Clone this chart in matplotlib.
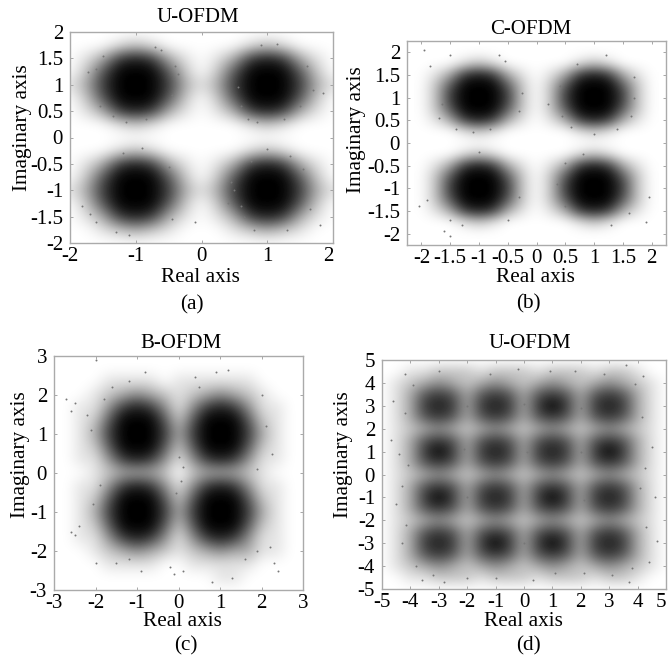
import numpy as np
import matplotlib
matplotlib.use("Agg")
import matplotlib.pyplot as plt

plt.rcParams['font.family'] = ['Liberation Serif', 'DejaVu Serif']

W, H = 668, 658

# darkness, 0 = white, 9 = black, one digit per grid node
# rows run from the top of the panel to the bottom
dark_a = ["00000000000000000",
          "00012100000121000",
          "01378731013787310",
          "02699962026999620",
          "13799973137999731",
          "02699962026999620",
          "01378731013787310",
          "00012100000121000",
          "00000000000000000",
          "00012100000121000",
          "01378731013787310",
          "02699962026999620",
          "13799973137999731",
          "02699962026999620",
          "01378731013787310",
          "00123210001232100",
          "00000000000000000"]
dark_b = ["00000000000000000",
          "00012100000121000",
          "01378731013787310",
          "02699962026999620",
          "02799972027999720",
          "02699962026999620",
          "01378731013787310",
          "00012100000121000",
          "00000000000000000",
          "00012100000121000",
          "01378731013787310",
          "02699962026999620",
          "02799972027999720",
          "02699962026999620",
          "01378731013787310",
          "00012100000121000",
          "00000000000000000"]
dark_c = ["0000000000000000000",
          "0000000000000000000",
          "0000111101111110000",
          "0001234321234321000",
          "0011478741478741100",
          "0012699962699962100",
          "0013799973799973100",
          "0012699962699962100",
          "0011478741478741100",
          "0001233320233321000",
          "0011478741478741100",
          "0012699962699962100",
          "0013799973799973100",
          "0012699962699962100",
          "0011478741478741100",
          "0001234321234331100",
          "0000111100111110000",
          "0000000000001100000",
          "0000000000000000000"]
dark_d = ["000000000000000000000",
          "001122212221222122100",
          "012343234323432343210",
          "013676367636763676310",
          "013787378737973787310",
          "013676367636763676310",
          "012343234323432343210",
          "013676367636763676310",
          "013797378737873797310",
          "013676367636763676310",
          "012343234323432343210",
          "013676367636763676310",
          "013797378737973787310",
          "013676367636763676310",
          "012343234323432343210",
          "013676367636763676310",
          "013787379737973787310",
          "013676367636763676310",
          "012343234323432343210",
          "001122212221222122100",
          "000000000000000000000"]

# isolated points in the outskirts of each cloud
stray_a_x = [-1.6, -1.72, -1.5, -0.62, -0.7, -1.82, -1.7, -1.3, -1.1, 0.5, 0.45, 0.55, 1.7, 1.85, 1.65, 0.9, 1.15,
             1.8, -0.1, 0.4, -1.35, -1.15, -0.85, -0.45, -0.35, -0.4, -1.55, -1.6, -0.9, -1.2, -0.5, -0.45, 0.6,
             0.7, 0.85, 1.25, 1.5, 1.6, 0.75, 1.0, 1.35, 1.55, 0.6, 0.65, 0.8, 1.3]
stray_a_y = [1.3, 1.25, 1.55, 1.65, 1.72, -1.3, -1.45, -1.8, -1.85, -1.0, -0.85, 0.95, 0.9, 0.85, -1.35, 1.75, 1.78,
             -1.65, -1.6, -1.25, 0.4, 0.3, 0.35, 0.8, 1.2, 1.35, 0.6, -1.6, -0.2, -0.3, -0.55, -1.55, 0.6,
             0.35, 0.3, 0.35, 0.6, 1.35, -0.45, -0.22, -0.35, -0.6, -1.3, -1.5, -1.75, -1.75]
stray_b_x = [-1.85, -1.95, -1.65, -1.5, -0.65, -0.55, 0.2, -2.05, -1.9, -1.6, -1.5, 0.4, 0.35, 1.7, 1.95, 1.9, 0.5,
             1.2, -1.4, -1.1, -0.8, -0.3, -0.25, -1.7, -1.5, -1.3, -0.5, -0.3, -1.0, 0.45, 0.6, 1.0, 1.4, 1.65,
             0.8, 0.5, 1.3, 1.6, 1.7, 0.7]
stray_b_y = [1.7, 2.05, 0.85, 1.95, 1.95, 1.8, 0.85, -1.4, -1.25, -1.95, -2.05, 1.25, -0.9, 1.0, -1.2, -1.75, -0.45,
             1.95, 0.3, 0.25, 0.3, 0.7, 1.1, 0.55, -1.7, -1.8, -1.7, -1.2, -0.2, 0.6, 0.35, 0.2, 0.3, 0.6,
             -0.25, -1.4, -1.8, -1.55, 1.45, 1.75]
stray_c_x = [-2.7, -2.6, -2.5, -2.1, -2.0, -2.6, -2.5, -2.4, -2.0, -0.2, -0.1, 0.1, 0.9, 1.2, 2.3, 2.4, 2.2, 1.3,
             0.8, -0.8, 2.0, -0.9, -2.2, -1.8, -1.6, -1.2, 0.0, -0.05, 0.1, 0.05, 2.1, 2.25, 1.9, -2.05, -1.9, 1.6,
             1.9, 0.4, 0.5, -1.5, -1.2]
stray_c_y = [1.9, 1.6, 1.8, 1.1, 2.9, -1.5, -1.6, -1.35, -2.3, -2.4, -2.6, -2.5, 2.6, 2.65, -2.3, -2.5, -1.9, -2.7,
             -2.8, 2.6, 2.0, -2.5, 1.5, 1.9, 2.2, 2.35, 0.4, -0.5, 0.15, -0.2, 1.2, 0.5, 0.1, -0.8, -0.3, -2.2,
             -2.0, 2.45, 2.2, -2.3, -2.2]
stray_d_x = [-4.6, -4.4, -4.5, -4.3, -4.7, -4.2, -3.6, -2.8, 4.2, 4.5, 4.6, 4.7, 4.4, 3.6, 3.7, -0.2, 0.3, 1.8,
             -2.0, 2.1, -4.2, -4.1, -4.3, -4.15, 4.15, 4.25, 4.1, 4.3, -3.0, -1.2, 0.9, 2.8, -3.2, -1.0, 1.1, 3.1,
             -2.0, 0.0, 2.0, -2.0, 0.0, 2.0, -2.1, 0.1, 2.1, -3.9, 3.9, -3.8, 3.8]
stray_d_y = [3.2, 0.9, -1.3, -3.0, 1.5, 4.4, -4.6, -4.7, 4.3, 1.2, -1.0, -2.9, -3.8, 4.8, -4.7, 4.6, -4.6, 4.5,
             -4.5, -4.3, 2.7, 0.4, -0.5, -2.2, 2.5, 0.3, -0.6, -2.3, 4.5, 4.4, 4.5, 4.4, -4.4, -4.5, -4.3, -4.4,
             3.0, 3.1, 2.9, -1.0, -3.0, 1.0, 1.1, 1.0, -1.1, 3.9, 3.95, -4.0, -4.1]

a_ticks_x = [-2, -1, 0, 1, 2]
a_ticks_y = [-2, -1.5, -1, -0.5, 0, 0.5, 1, 1.5, 2]
b_ticks = [-2, -1.5, -1, -0.5, 0, 0.5, 1, 1.5, 2]
c_ticks = [-3, -2, -1, 0, 1, 2, 3]
d_ticks = [-5, -4, -3, -2, -1, 0, 1, 2, 3, 4, 5]

panels = [
    dict(box=(70, 32, 333, 243), lim=(-2, 2), grid=2, dark=dark_a, sx=stray_a_x, sy=stray_a_y,
         xt=a_ticks_x, yt=a_ticks_y, title="U-OFDM", title_xy=(198, 18), xl_xy=(200, 277),
         yl_xy=(22, 128), tag="(a)", tag_xy=(192, 305)),
    dict(box=(407, 41, 666, 245), lim=(-2.25, 2.25), grid=2, dark=dark_b, sx=stray_b_x, sy=stray_b_y,
         xt=b_ticks, yt=b_ticks, title="C-OFDM", title_xy=(531, 29), xl_xy=(535, 277),
         yl_xy=(357, 130), tag="(b)", tag_xy=(528, 304)),
    dict(box=(54, 356, 303, 590), lim=(-3, 3), grid=3, dark=dark_c, sx=stray_c_x, sy=stray_c_y,
         xt=c_ticks, yt=c_ticks, title="B-OFDM", title_xy=(181, 343), xl_xy=(182, 622),
         yl_xy=(21, 455), tag="(c)", tag_xy=(186, 646)),
    dict(box=(382, 360, 666, 589), lim=(-5, 5), grid=5, dark=dark_d, sx=stray_d_x, sy=stray_d_y,
         xt=d_ticks, yt=d_ticks, title="U-OFDM", title_xy=(530, 343), xl_xy=(523, 621),
         yl_xy=(344, 455), tag="(d)", tag_xy=(528, 646)),
]


def tick_text(v):
    return f"{v:g}"


fig = plt.figure(figsize=(W / 100, H / 100), dpi=100)

for p in panels:
    x0, y0, x1, y1 = p['box']
    ax = fig.add_axes([x0 / W, 1 - y1 / H, (x1 - x0) / W, (y1 - y0) / H])
    rows = np.array([[int(c) for c in r] for r in p['dark']], dtype=float)
    g = p['grid']
    half = g / (rows.shape[0] - 1)
    ax.imshow(rows, cmap='gray_r', vmin=0, vmax=9, interpolation='bicubic', aspect='auto',
              extent=(-g - half, g + half, -g - half, g + half))
    ax.scatter(p['sx'], p['sy'], s=2, color='#777777', linewidths=0)
    ax.set_xlim(*p['lim'])
    ax.set_ylim(*p['lim'])
    ax.set_xticks(p['xt'])
    ax.set_yticks(p['yt'])
    ax.set_xticklabels([tick_text(v) for v in p['xt']])
    ax.set_yticklabels([tick_text(v) for v in p['yt']])
    ax.tick_params(direction='in', length=2, width=0.6, color='#999999', labelsize=15,
                   top=True, right=True)
    ax.tick_params(axis='x', pad=3)
    ax.tick_params(axis='y', pad=5)
    # right-hand labels sit against the image edge
    if p['xt'][-1] == 5 or p['lim'] == (-2, 2):
        ax.get_xticklabels()[-1].set_ha('right')
    for s in ax.spines.values():
        s.set_color('#aaaaaa')
        s.set_linewidth(1.0)
    fig.text(p['title_xy'][0] / W, 1 - p['title_xy'][1] / H, p['title'], ha='center', va='center', fontsize=15)
    fig.text(p['xl_xy'][0] / W, 1 - p['xl_xy'][1] / H, "Real axis", ha='center', va='center', fontsize=15.3)
    fig.text(p['yl_xy'][0] / W, 1 - p['yl_xy'][1] / H, "Imaginary axis", ha='center', va='center',
             rotation=90, fontsize=15.3)
    fig.text(p['tag_xy'][0] / W, 1 - p['tag_xy'][1] / H, p['tag'], ha='center', va='center', fontsize=15.3)

fig.savefig("out.png", dpi=100)
